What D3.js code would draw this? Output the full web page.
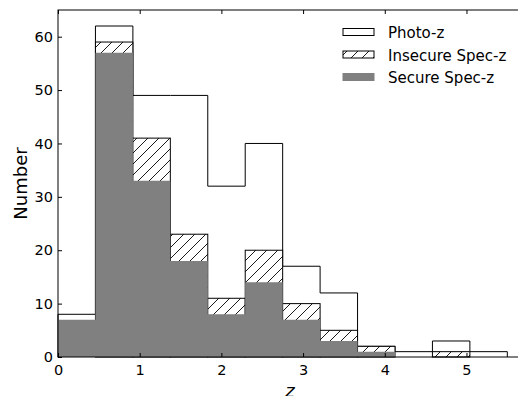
<!DOCTYPE html>
<html>
<head>
<meta charset="utf-8">
<script src="https://cdn.jsdelivr.net/npm/d3@7"></script>
<style>
  body { margin: 0; background: #fff; }
  svg { display: block; font-family: "DejaVu Sans", sans-serif; }
</style>
</head>
<body>
<div class="canvas"></div>
<script>
// histogram bins (12 bins from 0 to 5.5)
const binEdges = [0, 0.4583, 0.9167, 1.375, 1.8333, 2.2917, 2.75, 3.2083, 3.6667, 4.125, 4.5833, 5.0417, 5.5];
const photoZ = [8, 62, 49, 49, 32, 40, 17, 12, 2, 1, 3, 1];
const insecureSpecZ = [7, 59, 41, 23, 11, 20, 10, 5, 2, 0, 1, 0]; // cumulative with secure
const secureSpecZ = [7, 57, 33, 18, 8, 14, 7, 3, 1, 0, 0, 0];
const xTicks = [0, 1, 2, 3, 4, 5];
const yTicks = [0, 10, 20, 30, 40, 50, 60];
const legendLabels = ["Photo-z", "Insecure Spec-z", "Secure Spec-z"];

const width = 518, height = 396;
const xMax = 5.643;
const margin = { top: 10, right: -1, bottom: 39, left: 58 };

const svg = d3.select(".canvas")
  .append("svg")
  .attr("width", width)
  .attr("height", height);

// hatch pattern
const pat = svg.append("defs")
  .append("pattern")
  .attr("id", "hatch")
  .attr("patternUnits", "userSpaceOnUse")
  .attr("width", 11)
  .attr("height", 11);
pat.append("rect").attr("width", 11).attr("height", 11).attr("fill", "#fff");
pat.append("path")
  .attr("d", "M0,11 L11,0 M-2,2 L2,-2 M9,13 L13,9")
  .attr("stroke", "#000")
  .attr("stroke-width", 0.9);

//scales
const x = d3.scaleLinear().domain([0, xMax]).range([margin.left, width - margin.right]);
const y = d3.scaleLinear().domain([0, 65]).range([height - margin.bottom, margin.top]);

const bins = photoZ.map((v, i) => ({
  x0: binEdges[i], x1: binEdges[i + 1],
  photo: v, insecure: insecureSpecZ[i], secure: secureSpecZ[i]
}));

// step points for a histogram outline
const stepPoints = (key) => {
  const pts = [[binEdges[0], 0]];
  bins.forEach(b => { pts.push([b.x0, b[key]]); pts.push([b.x1, b[key]]); });
  pts.push([binEdges[binEdges.length - 1], 0]);
  return pts;
};
const stepLine = d3.line().x(d => x(d[0])).y(d => y(d[1]));

// photo-z step outline
svg.append("path")
  .datum(stepPoints("photo"))
  .attr("fill", "none")
  .attr("stroke", "#000")
  .attr("stroke-width", 1)
  .attr("d", stepLine);

// insecure (hatched)
svg.selectAll(".hatch-bar")
  .data(bins.filter(b => b.insecure > b.secure))
  .enter()
  .append("rect")
  .attr("class", "hatch-bar")
  .attr("x", d => x(d.x0))
  .attr("y", d => y(d.insecure))
  .attr("width", d => x(d.x1) - x(d.x0))
  .attr("height", d => y(0) - y(d.insecure))
  .attr("fill", "url(#hatch)")
  .attr("stroke", "#000")
  .attr("stroke-width", 1);

// secure (gray), one filled step path so there are no seams
svg.append("path")
  .datum(stepPoints("secure"))
  .attr("fill", "#808080")
  .attr("stroke", "none")
  .attr("d", d => stepLine(d) + "Z");

// frame
svg.append("rect")
  .attr("x", x(0)).attr("y", y(65))
  .attr("width", x(xMax) - x(0))
  .attr("height", y(0) - y(65))
  .attr("fill", "none")
  .attr("stroke", "#000")
  .attr("stroke-width", 1);

// axes, ticks pointing inward
const xAxis = d3.axisBottom(x).tickValues(xTicks).tickFormat(d3.format("d")).tickSizeInner(-4).tickSizeOuter(0).tickPadding(8);
const xTop = d3.axisTop(x).tickValues(xTicks).tickSizeInner(-4).tickSizeOuter(0).tickFormat("");
const yAxis = d3.axisLeft(y).tickValues(yTicks).tickFormat(d3.format("d")).tickSizeInner(-4).tickSizeOuter(0).tickPadding(5);

const styleAxis = g => {
  g.select(".domain").remove();
  g.selectAll("line").attr("stroke", "#000");
  g.selectAll("text").attr("fill", "#000").style("font-size", "14.5px").style("font-family", "DejaVu Sans");
};

svg.append("g").attr("transform", `translate(0, ${y(0)})`).call(xAxis).call(styleAxis);
svg.append("g").attr("transform", `translate(0, ${y(65)})`).call(xTop).call(styleAxis);
svg.append("g").attr("transform", `translate(${x(0)}, 0)`).call(yAxis).call(styleAxis);

// axis labels
svg.append("text")
  .attr("transform", `translate(27, ${(y(0) + y(65)) / 2}) rotate(-90)`)
  .attr("text-anchor", "middle")
  .style("font-size", "18px")
  .text("Number");

svg.append("text")
  .attr("x", 290)
  .attr("y", 397)
  .attr("text-anchor", "middle")
  .style("font-size", "18px")
  .style("font-style", "italic")
  .text("z");

// legend
const legend = svg.append("g").attr("transform", "translate(343, 0)");
const rowY = [38, 60.5, 83];

legend.append("rect").attr("x", 0).attr("y", rowY[0] - 9.5).attr("width", 31).attr("height", 7)
  .attr("fill", "#fff").attr("stroke", "#000");
legend.append("rect").attr("x", 0).attr("y", rowY[1] - 9.5).attr("width", 31).attr("height", 7)
  .attr("fill", "url(#hatch)").attr("stroke", "#000");
legend.append("rect").attr("x", -0.5).attr("y", rowY[2] - 10).attr("width", 32).attr("height", 8)
  .attr("fill", "#808080");

legend.selectAll(".legend-text")
  .data(legendLabels)
  .enter()
  .append("text")
  .attr("class", "legend-text")
  .attr("x", 45)
  .attr("y", (d, i) => rowY[i])
  .style("font-size", "15px")
  .text(d => d);
</script>
</body>
</html>
